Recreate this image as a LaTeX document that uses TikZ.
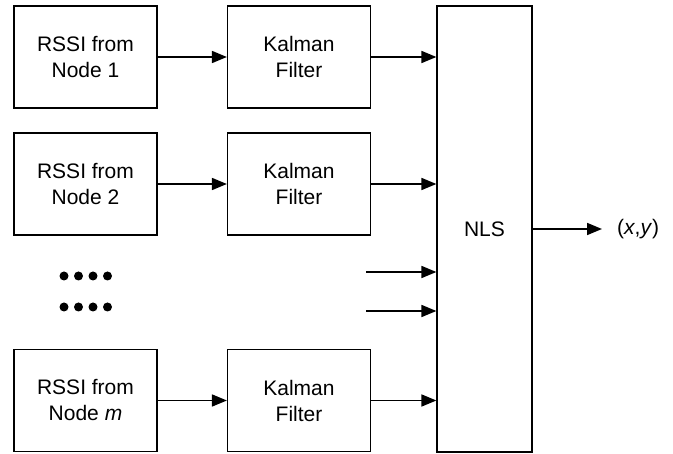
\documentclass[tikz,border=0pt]{standalone}
\usepackage{fontspec}
\setmainfont{Liberation Sans}
\usetikzlibrary{arrows.meta}
\begin{document}
\begin{tikzpicture}[x=1pt,y=-1pt,
  blk/.style={draw,line width=1.2pt,minimum width=143pt,minimum height=102pt,inner sep=0pt,align=center,font=\fontsize{21}{26}\selectfont},
  conn/.style={line width=1.7pt,-{Triangle[length=15pt,width=12pt]}},
  dotf/.style={fill=black,circle,inner sep=0pt,minimum size=9pt}]
\useasboundingbox (0,0) rectangle (673,454);
\node[blk] (r1) at (85.5,57) {RSSI from\\Node 1};
\node[blk] (k1) at (299,57) {Kalman\\Filter};
\node[blk] (r2) at (85.5,184) {RSSI from\\Node 2};
\node[blk] (k2) at (299,184) {Kalman\\Filter};
\node[blk] (rm) at (85.5,400.5) {RSSI from\\Node \textit{m}};
\node[blk] (km) at (299,400.5) {Kalman\\Filter};
\node[blk,minimum width=95pt,minimum height=446pt] (nls) at (484.5,229) {NLS};
\node[font=\fontsize{21}{26}\selectfont,anchor=west,inner sep=0pt] (out) at (617,229) {(\textit{x},\textit{y})};
\coordinate (a3) at (366,272);
\coordinate (a4) at (366,311);
\coordinate (o) at (602,229);
\foreach \i/\x in {1/64,2/78.5,3/93,4/107.5}{
  \node[dotf] (d1\i) at (\x,276) {};
  \node[dotf] (d2\i) at (\x,307) {};
}
\draw[conn] (r1) -- (k1);
\draw[conn] (r2) -- (k2);
\draw[conn] (rm) -- (km);
\draw[conn] (k1.east) -- (k1.east -| nls.west);
\draw[conn] (k2.east) -- (k2.east -| nls.west);
\draw[conn] (km.east) -- (km.east -| nls.west);
\draw[conn] (a3) -- (a3 -| nls.west);
\draw[conn] (a4) -- (a4 -| nls.west);
\draw[conn] (nls.east |- o) -- (o);
\end{tikzpicture}
\end{document}
